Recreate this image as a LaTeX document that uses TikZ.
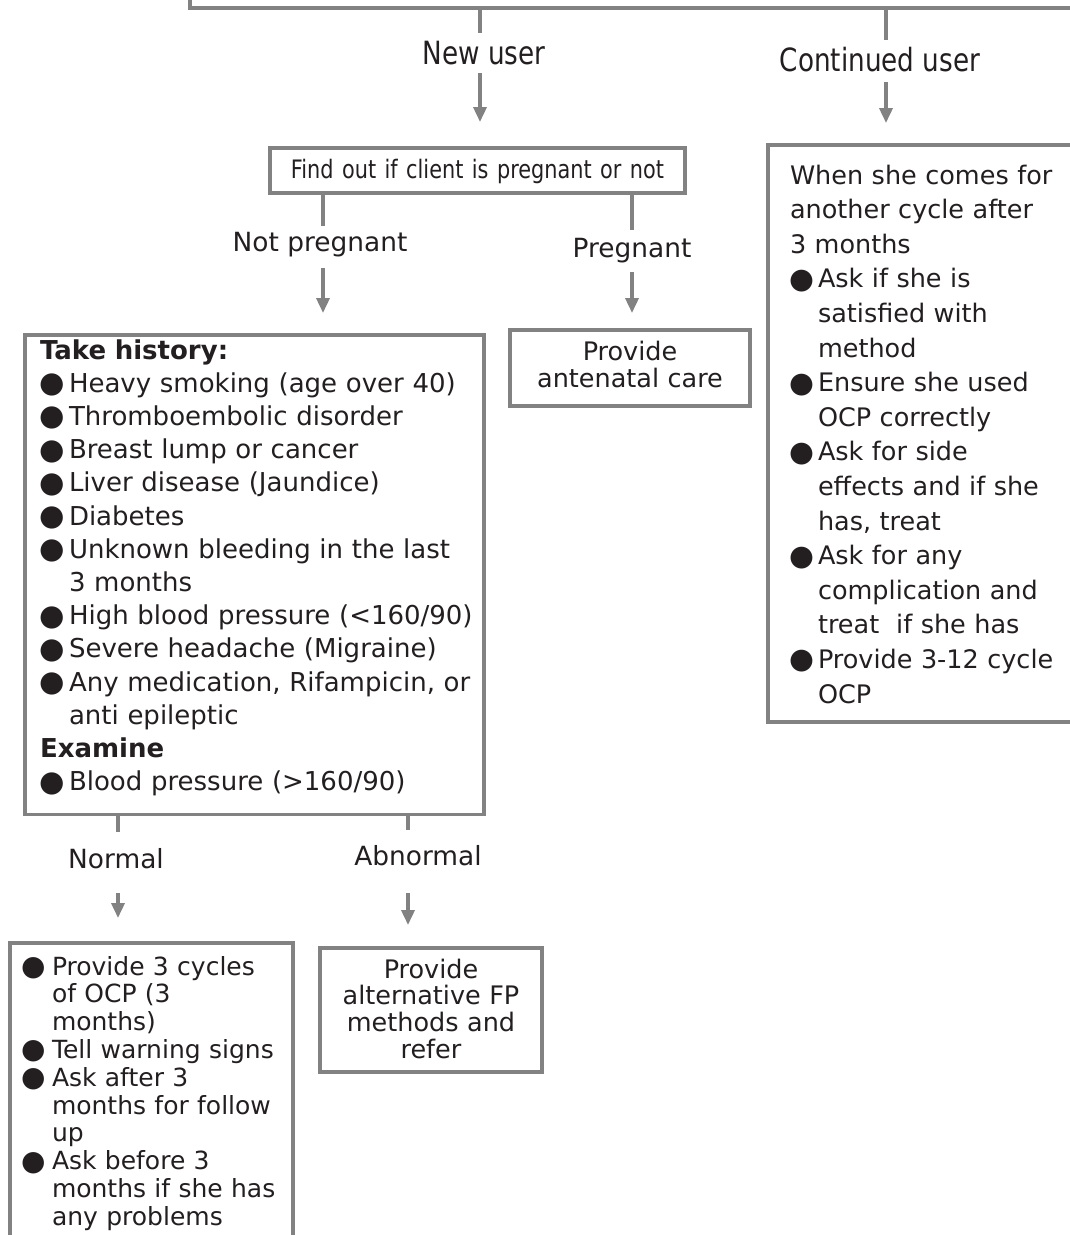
\documentclass[tikz,border=0pt]{standalone}
\usepackage{fontspec}
\setmainfont{DejaVu Sans}
\newfontfamily\narrowfont[FakeStretch=0.82]{DejaVu Sans}
\usetikzlibrary{arrows.meta}
\definecolor{rulegray}{RGB}{130,130,130}
\definecolor{ink}{RGB}{35,31,32}

% list helpers: bulleted line, continuation line (both unbreakable), fixed struts
\newcommand\bul[2]{\makebox[#1][l]{\hspace{-1pt}\raisebox{-0.5pt}{\scalebox{1.12}{●}}}\mbox{#2}}
\newcommand\cont[2]{\hspace*{#1}\mbox{#2}}
\newcommand\topstrut[1]{\rule{0pt}{#1}}
\newcommand\botstrut[1]{\rule[-#1]{0pt}{#1}}

\begin{document}
\begin{tikzpicture}[x=1pt,y=-1pt,
  box/.style={draw=rulegray, line width=3.5pt, fill=white, inner sep=0pt,
    outer sep=0pt, text=ink, anchor=north west},
  conn/.style={draw=rulegray, line width=3.5pt},
  arr/.style={conn, -{Triangle[length=15pt,width=13pt]}},
  lbl/.style={inner sep=0pt, text=ink, text depth=0pt},
  reglbl/.style={lbl, font=\fontsize{26.4}{30}\selectfont, text height=19.2pt},
  narlbl/.style={lbl, font=\narrowfont\fontsize{32}{36}\selectfont, text height=23.3pt},
]
\useasboundingbox (0,0) rectangle (1070,1235);
\clip (0,0) rectangle (1070,1235);
\fill[white] (0,0) rectangle (1070,1235);

% boxes
\node[box, anchor=south west, minimum width=920pt, minimum height=80pt] (top) at (190,8) {};

\node[box, text width=405pt, inner xsep=5pt, align=center,
  font=\narrowfont\fontsize{25.4}{30}\selectfont] (find) at (270,148)
  {\topstrut{30pt}Find out if client is pregnant or not\botstrut{15pt}};

\node[box, text width=288pt, inner xsep=22pt, align=left,
  font=\fontsize{25.5}{34.6}\selectfont] (cont) at (768,145)
  {\topstrut{39pt}When she comes for\\
   another cycle after\\
   3 months\\
   \bul{28pt}{Ask if she is}\\
   \cont{28pt}{satisfied with}\\
   \cont{28pt}{method}\\
   \bul{28pt}{Ensure she used}\\
   \cont{28pt}{OCP correctly}\\
   \bul{28pt}{Ask for side}\\
   \cont{28pt}{effects and if she}\\
   \cont{28pt}{has, treat}\\
   \bul{28pt}{Ask for any}\\
   \cont{28pt}{complication and}\\
   \cont{28pt}{treat\ \ if she has}\\
   \bul{28pt}{Provide 3-12 cycle}\\
   \cont{28pt}{OCP}\botstrut{19pt}};

\node[box, text width=429pt, inner xsep=15pt, align=left,
  font=\fontsize{26}{33.2}\selectfont] (hist) at (25,335)
  {\topstrut{24pt}\textbf{Take history:}\\
   \bul{29pt}{Heavy smoking (age over 40)}\\
   \bul{29pt}{Thromboembolic disorder}\\
   \bul{29pt}{Breast lump or cancer}\\
   \bul{29pt}{Liver disease (Jaundice)}\\
   \bul{29pt}{Diabetes}\\
   \bul{29pt}{Unknown bleeding in the last}\\
   \cont{29pt}{3 months}\\
   \bul{29pt}{High blood pressure (<160/90)}\\
   \bul{29pt}{Severe headache (Migraine)}\\
   \bul{29pt}{Any medication, Rifampicin, or}\\
   \cont{29pt}{anti epileptic}\\
   \textbf{Examine}\\
   \bul{29pt}{Blood pressure (>160/90)}\botstrut{24pt}};

\node[box, text width=230pt, inner xsep=5pt, align=center,
  font=\fontsize{25.5}{27}\selectfont] (anc) at (510,330)
  {\topstrut{30pt}Provide\\
   antenatal care\botstrut{19pt}};

\node[box, text width=259pt, inner xsep=12pt, align=left,
  font=\fontsize{25}{27.8}\selectfont] (ocp) at (10,943)
  {\topstrut{32pt}\bul{30pt}{Provide 3 cycles}\\
   \cont{30pt}{of OCP (3}\\
   \cont{30pt}{months)}\\
   \bul{30pt}{Tell warning signs}\\
   \bul{30pt}{Ask after 3}\\
   \cont{30pt}{months for follow}\\
   \cont{30pt}{up}\\
   \bul{30pt}{Ask before 3}\\
   \cont{30pt}{months if she has}\\
   \cont{30pt}{any problems}\botstrut{60pt}};

\node[box, text width=212pt, inner xsep=5pt, align=center,
  font=\fontsize{25.5}{26.7}\selectfont] (alt) at (320,948)
  {\topstrut{30pt}Provide\\
   alternative FP\\
   methods and\\
   refer\botstrut{14pt}};

% branch labels
\node[narlbl] (newu)  at (484,53)  {New user};
\node[narlbl] (contu) at (880,60)  {Continued user};
\node[reglbl] (notp)  at (320,242) {Not pregnant};
\node[reglbl] (preg)  at (632,248) {Pregnant};
\node[reglbl] (norm)  at (116,859) {Normal};
\node[reglbl] (abn)   at (418,856) {Abnormal};

% x positions of the branch lines
\coordinate (xnew)  at (480,0);
\coordinate (xcont) at (886,0);
\coordinate (xnotp) at (323,0);
\coordinate (xpreg) at (632,0);
\coordinate (xnorm) at (118,0);
\coordinate (xabn)  at (408,0);

% connectors
\draw[conn] (top.south -| xnew) -- ([yshift=8.5pt]newu.north -| xnew);
\draw[arr]  ([yshift=-8.5pt]newu.south -| xnew) -- ([yshift=26pt]find.north -| xnew);
\draw[conn] (top.south -| xcont) -- ([yshift=8.5pt]contu.north -| xcont);
\draw[arr]  ([yshift=-10.5pt]contu.south -| xcont) -- ([yshift=22pt]cont.north -| xcont);

\draw[conn] (find.south -| xnotp) -- ([yshift=6.5pt]notp.north -| xnotp);
\draw[arr]  ([yshift=-16.5pt]notp.south -| xnotp) -- ([yshift=22pt]hist.north -| xnotp);
\draw[conn] (find.south -| xpreg) -- ([yshift=8.5pt]preg.north -| xpreg);
\draw[arr]  ([yshift=-14.5pt]preg.south -| xpreg) -- ([yshift=17pt]anc.north -| xpreg);

\draw[conn] (hist.south -| xnorm) -- ([yshift=17.5pt]norm.north -| xnorm);
\draw[arr]  ([yshift=-24.5pt]norm.south -| xnorm) -- ([yshift=25pt]ocp.north -| xnorm);
\draw[conn] (hist.south -| xabn) -- ([yshift=16.5pt]abn.north -| xabn);
\draw[arr]  ([yshift=-27.5pt]abn.south -| xabn) -- ([yshift=23pt]alt.north -| xabn);
\end{tikzpicture}
\end{document}
